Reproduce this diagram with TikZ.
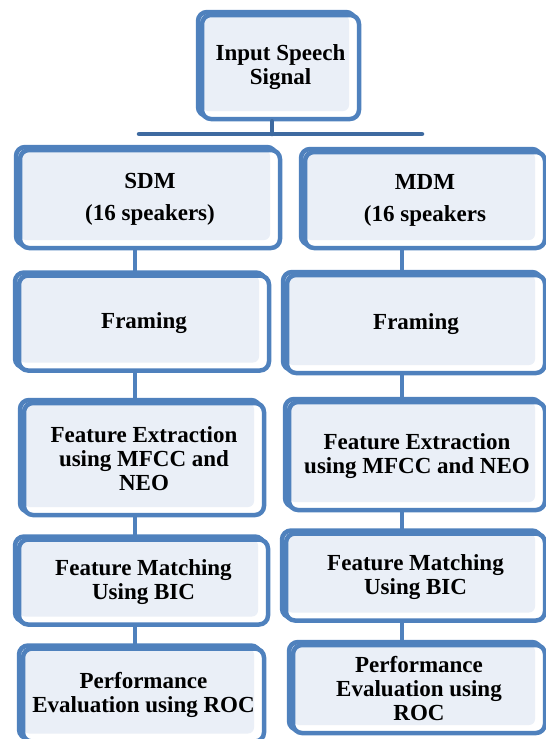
\documentclass[tikz,border=0pt]{standalone}
\usepackage{fontspec}
\setmainfont{Liberation Serif}
\usepackage{tikz}
\usetikzlibrary{positioning}
\definecolor{boxBlue}{RGB}{79,129,189}
\definecolor{boxFill}{RGB}{234,239,247}
\definecolor{barBlue}{RGB}{62,106,160}
\tikzset{
		boxStyle/.style = {rectangle, rounded corners=9pt, draw=boxBlue, line width=4.5pt,
		                   align=center, inner sep=0pt,
		                   font=\bfseries\fontsize{23}{24}\selectfont,
		                   preaction={draw=boxBlue, line width=4.5pt, transform canvas={shift={(-4pt,3pt)}}},
		                   preaction={fill=white},
		                   path picture={\fill[boxFill, rounded corners=6pt]
		                     (path picture bounding box.north west) rectangle
		                     ([shift={(-10pt,8pt)}]path picture bounding box.south east);}},
		linkStyle/.style = {draw=boxBlue, line width=4.5pt},
		trunkStyle/.style = {draw=barBlue, line width=4.5pt, line cap=round}
}

\begin{document}
\begin{tikzpicture}[x=1pt, y=-1pt]
  \useasboundingbox (0,0) rectangle (546,739);

  % Draw top box
  \node [boxStyle, minimum width=157pt, minimum height=104pt] (input) at (280.5,67) {Input Speech\\Signal};

  % Draw left column (SDM)
  \node [boxStyle, minimum width=260pt, minimum height=98pt]  (sdm)    at (150,199)   {SDM\\[8pt](16 speakers)};
  \node [boxStyle, minimum width=250pt, minimum height=95pt]  (frameL) at (144,323)   {Framing};
  \node [boxStyle, minimum width=240pt, minimum height=112pt] (featL)  at (144,459)   {Feature Extraction\\using MFCC and\\NEO};
  \node [boxStyle, minimum width=249pt, minimum height=85pt]  (matchL) at (143.5,582) {Feature Matching\\Using BIC};
  \node [boxStyle, minimum width=241pt, minimum height=93pt]  (perfL)  at (143.5,695) {Performance\\Evaluation using ROC};

  % Draw right column (MDM)
  \node [boxStyle, minimum width=240pt, minimum height=96pt]  (mdm)    at (425,200)   {MDM\\[8pt](16 speakers};
  \node [boxStyle, minimum width=258pt, minimum height=98pt]  (frameR) at (416,324)   {Framing};
  \node [boxStyle, minimum width=256pt, minimum height=108pt] (featR)  at (417,456)   {Feature Extraction\\using MFCC and NEO};
  \node [boxStyle, minimum width=259pt, minimum height=87pt]  (matchR) at (415.5,577) {Feature Matching\\Using BIC};
  \node [boxStyle, minimum width=252pt, minimum height=88pt]  (perfR)  at (419,689)   {Performance\\Evaluation using\\ROC};

  % Draw trunk and bar below the top box
  \coordinate (trunk)    at (272,134);
  \coordinate (barLeft)  at (139,134);
  \coordinate (barRight) at (422,134);
  \draw [trunkStyle] (input.south -| trunk) -- (trunk);
  \draw [trunkStyle] (barLeft) -- (barRight);

  % Draw links inside each column
  \coordinate (leftLine)  at (135,0);
  \coordinate (rightLine) at (402,0);
  \foreach \upper/\lower in {sdm/frameL, frameL/featL, featL/matchL, matchL/perfL}
    \draw [linkStyle] (\upper.south -| leftLine) -- (\lower.north -| leftLine);
  \foreach \upper/\lower in {mdm/frameR, frameR/featR, featR/matchR, matchR/perfR}
    \draw [linkStyle] (\upper.south -| rightLine) -- (\lower.north -| rightLine);

\end{tikzpicture}
\end{document}
